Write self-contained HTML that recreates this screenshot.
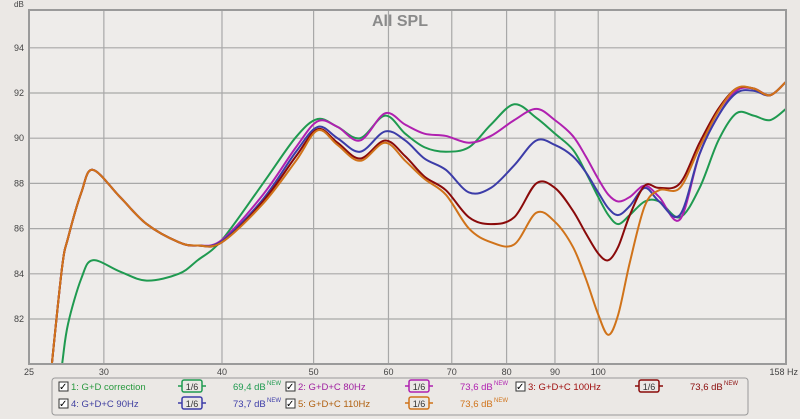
<!DOCTYPE html>
<html style="overflow:hidden"><head><meta charset="utf-8"><style>
html,body{margin:0;width:800px;height:419px;background:#ebe8e5;font-family:"Liberation Sans",sans-serif;overflow:hidden}
svg{position:absolute;left:0;top:0;overflow:hidden}
</style></head><body>
<svg width="800" height="419" id="chart">
<rect x="29" y="10" width="757" height="354" fill="#eeecea"/>
<g id="grid"></g>
<g id="series" clip-path="url(#clip)"></g>
<clipPath id="clip"><rect x="29" y="10" width="757" height="354"/></clipPath>
<rect x="29" y="10" width="757" height="354" fill="none" stroke="#9a9a9a" stroke-width="2"/>
<text x="400" y="26" text-anchor="middle" font-size="16" font-weight="bold" fill="#8a8a8a">All SPL</text>
<text x="14" y="7" font-size="8" fill="#444">dB</text>
<g id="ticks" font-size="9" fill="#444"></g>
<rect x="52" y="378" width="696" height="37" rx="3" fill="#ebe8e5" stroke="#999"/>
<g id="legend" font-size="9.5"></g>
</svg>
<script>
const freqs=[26.4,27.1,27.5,28.4,29.2,31.2,33.3,36,37.7,40,44.2,47.9,50.5,53,56,59.5,62.5,65.5,69,73,77,81.5,86,90,94,97,100,102.5,105,108,112,116,122,128,134,140,146,152,158];
const low=[79.8,84.3,85.6,87.6,88.6,87.4,86.2,85.4,85.25];
const sGreen=[76,80.0,81.8,83.8,84.6,84.1,83.7,84.0,84.6,85.5,88.0,90.05,90.85,90.5,90.0,91.0,90.2,89.6,89.4,89.6,90.6,91.5,90.9,90.2,89.5,88.5,87.4,86.6,86.2,86.6,87.2,87.2,86.5,87.8,89.9,91.1,91.0,90.8,91.3];
const sMagenta=low.concat([85.5,87.5,89.6,90.75,90.5,89.9,91.1,90.6,90.2,90.1,89.8,90.1,90.8,91.3,90.8,90.1,89.2,88.2,87.5,87.2,87.4,87.9,87.4,86.4,89.3,91.0,92.1,92.2,91.9,92.5]);
const sBlue=low.concat([85.45,87.3,89.4,90.5,90.0,89.4,90.3,89.9,89.1,88.6,87.6,87.8,88.8,89.9,89.7,89.2,88.5,87.6,86.9,86.6,87.0,87.8,87.2,86.6,89.3,91.0,92.0,92.1,91.9,92.5]);
const sRed=low.concat([85.4,87.2,89.2,90.4,89.8,89.1,89.9,89.2,88.3,87.7,86.5,86.2,86.5,88.0,87.8,86.8,85.8,84.9,84.6,85.2,86.6,87.9,87.8,88.0,89.8,91.3,92.2,92.2,91.9,92.5]);
const sOrange=low.concat([85.4,87.1,89.0,90.35,89.7,89.0,89.8,89.0,88.2,87.5,86.0,85.4,85.3,86.7,86.3,85.2,83.8,82.2,81.3,82.2,84.5,87.0,87.7,87.8,89.6,91.2,92.2,92.2,91.9,92.5]);
const xTicks=[25,30,40,50,60,70,80,90,100,158];
const xTickLabels=["25","30","40","50","60","70","80","90","100","158 Hz"];
const yTicks=[82,84,86,88,90,92,94];
const X=f=>29+410.6*Math.log(f/25);
const Y=v=>93+(92-v)*22.6;
const NS="http://www.w3.org/2000/svg";
function mk(t,a,p){const e=document.createElementNS(NS,t);for(const k in a)e.setAttribute(k,a[k]);p.appendChild(e);return e;}
const grid=document.getElementById('grid'),ticks=document.getElementById('ticks');
xTicks.forEach((f,i)=>{const x=X(f);const last=i==xTicks.length-1;
 if(i>0&&!last){const l=mk('line',{x1:x,x2:x,y1:10,y2:364,stroke:'#a8a8a8','stroke-width':1.2},grid);
 
 }
 const t=mk('text',{x:last?798:x,y:375,'text-anchor':last?'end':'middle'},ticks);t.textContent=xTickLabels[i];
 
 });
yTicks.forEach(v=>{const y=Y(v);
 const l=mk('line',{x1:29,x2:786,y1:y,y2:y,stroke:'#a8a8a8','stroke-width':1.2},grid);
 
 
 const t=mk('text',{x:24,y:y+3,'text-anchor':'end'},ticks);t.textContent=v;
 
 });
function path(vals){const p=freqs.map((f,i)=>[X(f),Y(vals[i])]);let d='M'+p[0][0]+','+p[0][1];
 for(let i=0;i<p.length-1;i++){const a=p[i-1]||p[i],b=p[i],c=p[i+1],e=p[i+2]||c;
 d+=' C'+(b[0]+(c[0]-a[0])/6)+','+(b[1]+(c[1]-a[1])/6)+' '+(c[0]-(e[0]-b[0])/6)+','+(c[1]-(e[1]-b[1])/6)+' '+c[0]+','+c[1];}return d;}
const ser=document.getElementById('series');
const defs=[[sGreen,'#1f9a50','green-correction-line'],[sMagenta,'#b020b0','magenta-80hz-line'],[sBlue,'#3c3ca8','blue-90hz-line'],[sRed,'#8a0a0a','red-100hz-line'],[sOrange,'#d0731a','orange-110hz-line']];
defs.forEach(d=>{const e=mk('path',{d:path(d[0]),fill:'none',stroke:d[1],'stroke-width':2},ser);
 
 });
const lg=document.getElementById('legend');
const items=[[63,390,'1: G+D correction','69,4','#1f9a50','#2a9a40'],[290,390,'2: G+D+C 80Hz','73,6','#b020b0','#a020a0'],[520,390,'3: G+D+C 100Hz','73,6','#8a0a0a','#a01010'],[63,407,'4: G+D+C 90Hz','73,7','#3c3ca8','#4040a0'],[290,407,'5: G+D+C 110Hz','73,6','#d0731a','#b06010']];
items.forEach(it=>{const [x,y,lab,val,c,tc]=it;
 const cb=mk('rect',{x:x-4,y:y-8,width:9,height:9,fill:'#fff',stroke:'#333'},lg);
 
 
 const ck=mk('text',{x:x-4,y:y,'font-size':10,fill:'#000'},lg);ck.textContent='✓';
 const t=mk('text',{x:x+8,y:y,fill:tc},lg);t.textContent=lab;
 
 
 const bx=x+119;
 mk('line',{x1:bx-4,x2:bx+24,y1:y-4,y2:y-4,stroke:c,'stroke-width':1.5},lg);
 const b=mk('rect',{x:bx,y:y-10,width:20,height:12,rx:2,fill:'#ebe8e5',stroke:c,'stroke-width':1.5},lg);
 
 
 const bt=mk('text',{x:bx+10,y:y,'text-anchor':'middle',fill:'#333','font-size':9},lg);bt.textContent='1/6';
 const v=mk('text',{x:x+170,y:y,fill:c},lg);v.textContent=val+' dB';
 
 
 const s=mk('text',{x:x+204,y:y-5,fill:c,'font-size':6},lg);s.textContent='NEW';});
</script>
</body></html>
